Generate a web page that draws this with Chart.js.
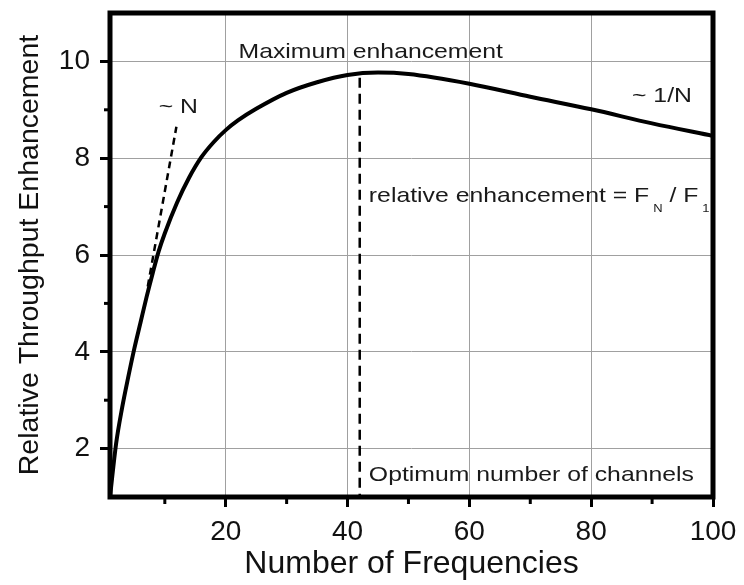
<!DOCTYPE html>
<html>
<head>
<meta charset="utf-8">
<script src="https://cdn.jsdelivr.net/npm/chart.js@4.4.0/dist/chart.umd.min.js"></script>
<style>
    html, body { margin: 0; padding: 0; background: #fff; }
    #chart { display: block; }
</style>
</head>
<body>
<canvas id="chart" width="744" height="585"></canvas>
<script>
// Relative throughput enhancement vs number of frequencies
const frequencies = [1, 2, 3, 4, 5, 6, 7, 8, 9, 10, 12, 14, 16, 18, 20, 22, 25, 30, 35, 40, 45, 50, 60, 70, 80, 90, 100];
const enhancement = [1.0, 2.1, 2.85, 3.48, 4.07, 4.6, 5.13, 5.62, 6.08, 6.45, 7.08, 7.6, 8.02, 8.33, 8.58, 8.78, 9.02, 9.35, 9.57, 9.72, 9.77, 9.74, 9.54, 9.27, 9.01, 8.72, 8.46];

// "~ N" guide (dashed)
const linearN = [7.2, 11.9];
const linearValues = [5.35, 8.65];

// optimum number of channels (dashed vertical)
const optimumN = [42, 42];
const optimumValues = [9.66, 1];

// axis ticks
const xTicks = [20, 40, 60, 80, 100];
const xMinorTicks = [10, 30, 50, 70, 90];
const yTicks = [2, 4, 6, 8, 10];
const yMinorTicks = [3, 5, 7, 9];

// text notes, anchored in data units (left edge, baseline)
const notes = [
    { text: 'Maximum enhancement', n: 22.1, v: 10.08 },
    { text: '~ N', n: 9.0, v: 8.93 },
    { text: '~ 1/N', n: 86.7, v: 9.16 },
    { text: 'Optimum number of channels', n: 43.5, v: 1.34 }
];
const ratioNote = { n: 43.5, v: 7.1 };

const FONT = '"Liberation Sans", Arial, sans-serif';
const STRETCH = 1.18;

function toPoints(xs, ys) {
    return xs.map((x, i) => ({ x: x, y: ys[i] }));
}

// draws text widened like the original figure; returns the drawn width
function wideText(ctx, str, px, py, size) {
    ctx.save();
    ctx.font = size + 'px ' + FONT;
    ctx.translate(px, py);
    ctx.scale(STRETCH, 1);
    ctx.fillText(str, 0, 0);
    const w = ctx.measureText(str).width * STRETCH;
    ctx.restore();
    return w;
}

const decorations = {
    id: 'decorations',
    afterDatasetsDraw(chart) {
        const { ctx, chartArea: a, scales: { x, y } } = chart;
        ctx.save();

        // minor ticks
        ctx.strokeStyle = '#000';
        ctx.lineWidth = 3;
        xMinorTicks.forEach(v => {
            const px = x.getPixelForValue(v);
            ctx.beginPath();
            ctx.moveTo(px, a.bottom);
            ctx.lineTo(px, a.bottom + 7);
            ctx.stroke();
        });
        yMinorTicks.forEach(v => {
            const py = y.getPixelForValue(v);
            ctx.beginPath();
            ctx.moveTo(a.left, py);
            ctx.lineTo(a.left - 6, py);
            ctx.stroke();
        });

        // frame
        ctx.lineWidth = 5;
        ctx.strokeRect(a.left, a.top, a.right - a.left, a.bottom - a.top);

        // notes
        ctx.fillStyle = '#1a1a1a';
        ctx.textBaseline = 'alphabetic';
        ctx.textAlign = 'left';
        notes.forEach(nt => {
            wideText(ctx, nt.text, x.getPixelForValue(nt.n), y.getPixelForValue(nt.v), 21);
        });

        // relative enhancement = F_N / F_1
        let px = x.getPixelForValue(ratioNote.n);
        const py = y.getPixelForValue(ratioNote.v);
        px += wideText(ctx, 'relative enhancement = F', px, py, 21) + 4;
        px += wideText(ctx, 'N', px, py + 10, 11);
        px += wideText(ctx, ' / F', px, py, 21) + 4;
        wideText(ctx, '1', px, py + 10, 11);

        ctx.restore();
    }
};

const ctx = document.getElementById('chart').getContext('2d');
new Chart(ctx, {
    type: 'scatter',
    data: {
        datasets: [
            {
                data: toPoints(frequencies, enhancement),
                showLine: true,
                borderColor: '#000',
                borderWidth: 4,
                pointRadius: 0,
                cubicInterpolationMode: 'monotone'
            },
            {
                data: toPoints(linearN, linearValues),
                showLine: true,
                borderColor: '#000',
                borderWidth: 2.5,
                borderDash: [7, 5],
                pointRadius: 0
            },
            {
                data: toPoints(optimumN, optimumValues),
                showLine: true,
                borderColor: '#000',
                borderWidth: 2.5,
                borderDash: [10, 6],
                pointRadius: 0
            }
        ]
    },
    options: {
        responsive: false,
        devicePixelRatio: 1,
        animation: false,
        layout: { padding: { top: 13, right: 31, left: 0, bottom: 0 } },
        plugins: {
            legend: { display: false },
            tooltip: { enabled: false }
        },
        scales: {
            x: {
                type: 'linear',
                min: 1,
                max: 100,
                afterBuildTicks: s => { s.ticks = xTicks.map(v => ({ value: v })); },
                afterFit: s => { s.height = 88; s.paddingLeft = 0; s.paddingRight = 0; },
                border: { display: false },
                grid: {
                    color: '#a0a0a0',
                    lineWidth: 1,
                    tickColor: '#000',
                    tickWidth: 3,
                    tickLength: 10
                },
                ticks: {
                    padding: 8,
                    color: '#111',
                    font: { family: FONT, size: 28 }
                },
                title: {
                    display: true,
                    text: 'Number of Frequencies',
                    color: '#111',
                    font: { family: FONT, size: 32 },
                    padding: { top: 0, bottom: 2 }
                }
            },
            y: {
                type: 'linear',
                min: 1,
                max: 11,
                afterBuildTicks: s => { s.ticks = yTicks.map(v => ({ value: v })); },
                afterFit: s => { s.width = 110; s.paddingTop = 0; s.paddingBottom = 0; },
                border: { display: false },
                grid: {
                    color: '#a0a0a0',
                    lineWidth: 1,
                    tickColor: '#000',
                    tickWidth: 3,
                    tickLength: 10
                },
                ticks: {
                    padding: 10,
                    color: '#111',
                    font: { family: FONT, size: 28 }
                },
                title: {
                    display: true,
                    text: 'Relative Throughput Enhancement',
                    color: '#111',
                    font: { family: FONT, size: 28.5 },
                    padding: { top: 13, bottom: 0 }
                }
            }
        }
    },
    plugins: [decorations]
});
</script>
</body>
</html>
